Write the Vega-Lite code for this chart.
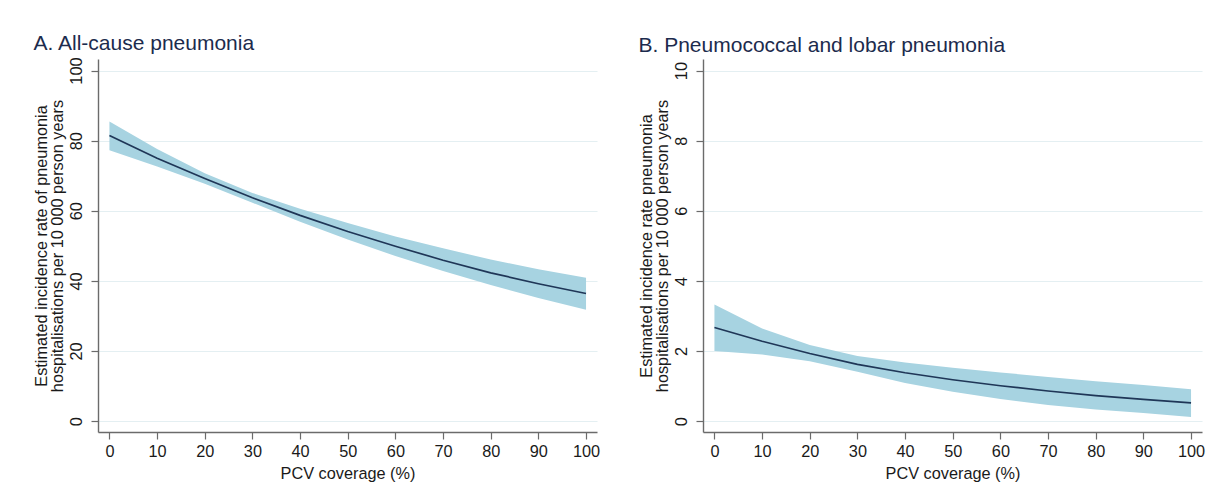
{
  "$schema": "https://vega.github.io/schema/vega-lite/v6.json",
  "padding": {"left": 33, "top": 32, "right": 5, "bottom": 5},
  "background": "white",
  "spacing": 38,
  "datasets": {
    "a": [
      {"x": 0, "mean": 81.5, "lo": 77.3, "hi": 85.5},
      {"x": 10, "mean": 75.0, "lo": 72.6, "hi": 77.6},
      {"x": 20, "mean": 69.2, "lo": 67.7, "hi": 70.7},
      {"x": 30, "mean": 63.7, "lo": 62.3, "hi": 65.1},
      {"x": 40, "mean": 58.7, "lo": 56.9, "hi": 60.6},
      {"x": 50, "mean": 54.1, "lo": 51.8, "hi": 56.5},
      {"x": 60, "mean": 49.9, "lo": 47.1, "hi": 52.7},
      {"x": 70, "mean": 45.9, "lo": 42.8, "hi": 49.3},
      {"x": 80, "mean": 42.3, "lo": 38.8, "hi": 46.1},
      {"x": 90, "mean": 39.2, "lo": 35.1, "hi": 43.3},
      {"x": 100, "mean": 36.4, "lo": 31.8, "hi": 40.9}
    ],
    "b": [
      {"x": 0, "mean": 2.67, "lo": 2.0, "hi": 3.33},
      {"x": 10, "mean": 2.28, "lo": 1.90, "hi": 2.64},
      {"x": 20, "mean": 1.93, "lo": 1.71, "hi": 2.17},
      {"x": 30, "mean": 1.62, "lo": 1.41, "hi": 1.86},
      {"x": 40, "mean": 1.38, "lo": 1.09, "hi": 1.67},
      {"x": 50, "mean": 1.18, "lo": 0.84, "hi": 1.52},
      {"x": 60, "mean": 1.01, "lo": 0.63, "hi": 1.39},
      {"x": 70, "mean": 0.86, "lo": 0.46, "hi": 1.26},
      {"x": 80, "mean": 0.73, "lo": 0.33, "hi": 1.14},
      {"x": 90, "mean": 0.62, "lo": 0.23, "hi": 1.03},
      {"x": 100, "mean": 0.52, "lo": 0.12, "hi": 0.91}
    ]
  },
  "config": {
    "font": "Liberation Sans",
    "view": {"stroke": null},
    "axis": {
      "labelFont": "Liberation Sans",
      "titleFont": "Liberation Sans",
      "labelFontSize": 16.3,
      "labelColor": "#1a1a1a",
      "titleFontSize": 16.3,
      "titleLineHeight": 16,
      "titleFontWeight": "normal",
      "titleColor": "#1a1a1a",
      "domainColor": "#6b6b6b",
      "domainWidth": 1.4,
      "tickColor": "#6b6b6b",
      "tickWidth": 1.2,
      "tickSize": 7,
      "gridColor": "#e4eff2",
      "gridWidth": 1.2
    },
    "title": {
      "font": "Liberation Sans",
      "fontSize": 21,
      "fontWeight": "normal",
      "color": "#1c2b4d",
      "anchor": "start",
      "frame": "bounds",
      "offset": 3
    }
  },
  "hconcat": [
    {
      "title": "A. All-cause pneumonia",
      "width": 499,
      "height": 373,
      "data": {"name": "a"},
      "layer": [
        {
          "mark": {"type": "area", "color": "#a7d3e1", "opacity": 1},
          "encoding": {
            "x": {"field": "x", "type": "quantitative", "title": "PCV coverage (%)",
              "scale": {"domain": [-2.4, 102.3], "nice": false, "zero": false},
              "axis": {"values": [0, 10, 20, 30, 40, 50, 60, 70, 80, 90, 100], "grid": false, "labelPadding": 4, "titlePadding": 6}},
            "y": {"field": "lo", "type": "quantitative",
              "title": ["Estimated incidence rate of pneumonia", "hospitalisations per 10 000 person years"],
              "scale": {"domain": [-3.1, 103.3], "nice": false, "zero": false},
              "axis": {"values": [0, 20, 40, 60, 80, 100], "grid": true, "labelAngle": -90, "labelAlign": "center", "labelBaseline": "bottom", "labelPadding": 7, "titlePadding": 2.5}},
            "y2": {"field": "hi"}
          }
        },
        {
          "mark": {"type": "line", "color": "#1f3657", "strokeWidth": 1.7},
          "encoding": {
            "x": {"field": "x", "type": "quantitative"},
            "y": {"field": "mean", "type": "quantitative"}
          }
        }
      ]
    },
    {
      "title": "B. Pneumococcal and lobar pneumonia",
      "width": 499,
      "height": 373,
      "data": {"name": "b"},
      "layer": [
        {
          "mark": {"type": "area", "color": "#a7d3e1", "opacity": 1},
          "encoding": {
            "x": {"field": "x", "type": "quantitative", "title": "PCV coverage (%)",
              "scale": {"domain": [-2.4, 102.3], "nice": false, "zero": false},
              "axis": {"values": [0, 10, 20, 30, 40, 50, 60, 70, 80, 90, 100], "grid": false, "labelPadding": 4, "titlePadding": 6}},
            "y": {"field": "lo", "type": "quantitative",
              "title": ["Estimated incidence rate pneumonia", "hospitalisations per 10 000 person years"],
              "scale": {"domain": [-0.31, 10.33], "nice": false, "zero": false},
              "axis": {"values": [0, 2, 4, 6, 8, 10], "grid": true, "labelAngle": -90, "labelAlign": "center", "labelBaseline": "bottom", "labelPadding": 7, "titlePadding": 2.5}},
            "y2": {"field": "hi"}
          }
        },
        {
          "mark": {"type": "line", "color": "#1f3657", "strokeWidth": 1.7},
          "encoding": {
            "x": {"field": "x", "type": "quantitative"},
            "y": {"field": "mean", "type": "quantitative"}
          }
        }
      ]
    }
  ]
}
